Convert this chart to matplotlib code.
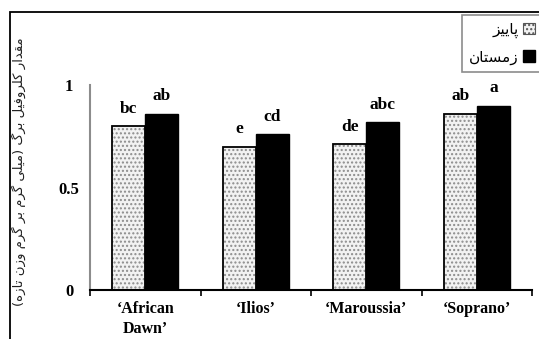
import matplotlib
matplotlib.use("Agg")
import matplotlib.pyplot as plt
from matplotlib.patches import Rectangle, Patch

# Daten
cultivars = ["\u2018African\nDawn\u2019", "\u2018Ilios\u2019", "\u2018Maroussia\u2019", "\u2018Soprano\u2019"]
autumn = [0.80, 0.70, 0.71, 0.86]
winter = [0.86, 0.76, 0.82, 0.90]
autumn_letters = ["bc", "e", "de", "ab"]
winter_letters = ["ab", "cd", "abc", "a"]
yticks = [0, 0.5, 1]
ylabel = "مقدار کلروفیل برگ (میلی گرم بر گرم وزن تازه)"
legend_labels = ["پاییز", "زمستان"]

# einfache Formung fuer persische Schrift (matplotlib hat kein Shaping)
forms = {
    "ا": ("\uFE8D", "\uFE8E", None, None),
    "ب": ("\uFE8F", "\uFE90", "\uFE91", "\uFE92"),
    "پ": ("\uFB56", "\uFB57", "\uFB58", "\uFB59"),
    "ت": ("\uFE95", "\uFE96", "\uFE97", "\uFE98"),
    "د": ("\uFEA9", "\uFEAA", None, None),
    "ر": ("\uFEAD", "\uFEAE", None, None),
    "ز": ("\uFEAF", "\uFEB0", None, None),
    "س": ("\uFEB1", "\uFEB2", "\uFEB3", "\uFEB4"),
    "ف": ("\uFED1", "\uFED2", "\uFED3", "\uFED4"),
    "ق": ("\uFED5", "\uFED6", "\uFED7", "\uFED8"),
    "ک": ("\uFB8E", "\uFB8F", "\uFB90", "\uFB91"),
    "گ": ("\uFB92", "\uFB93", "\uFB94", "\uFB95"),
    "ل": ("\uFEDD", "\uFEDE", "\uFEDF", "\uFEE0"),
    "م": ("\uFEE1", "\uFEE2", "\uFEE3", "\uFEE4"),
    "ن": ("\uFEE5", "\uFEE6", "\uFEE7", "\uFEE8"),
    "ه": ("\uFEE9", "\uFEEA", "\uFEEB", "\uFEEC"),
    "و": ("\uFEED", "\uFEEE", None, None),
    "ی": ("\uFBFC", "\uFBFD", "\uFBFE", "\uFBFF"),
}


def shape(txt):
    out = []
    for i, ch in enumerate(txt):
        if ch not in forms:
            out.append(ch)
            continue
        iso, fin, ini, med = forms[ch]
        prev = txt[i - 1] if i > 0 else ""
        nxt = txt[i + 1] if i + 1 < len(txt) else ""
        join_prev = prev in forms and forms[prev][2] is not None
        join_next = nxt in forms and ini is not None
        if join_prev and join_next:
            out.append(med)
        elif join_prev:
            out.append(fin)
        elif join_next:
            out.append(ini)
        else:
            out.append(iso)
    vis = "".join(out)[::-1]
    return vis.translate(str.maketrans("()", ")("))


serif = "Liberation Serif"
x = list(range(len(cultivars)))
w = 0.3

fig = plt.figure(figsize=(5.39, 3.39), dpi=100)
ax = fig.add_axes([90 / 539, 1 - 290 / 339, 442 / 539, 205 / 339])

xa = [i - w / 2 for i in x]
xw = [i + w / 2 for i in x]
ax.bar(xa, autumn, w, color="#f2f2f2", edgecolor="#8c8c8c", linewidth=0, hatch="....")
ax.bar(xa, autumn, w, fill=False, edgecolor="black", linewidth=1.3)
ax.bar(xw, winter, w, color="black", edgecolor="black", linewidth=1.0)

for xi, v, t in zip(xa, autumn, autumn_letters):
    ax.text(xi, v + 0.045, t, ha="center", va="bottom", fontsize=12.5,
            fontweight="bold", family=serif)
for xi, v, t in zip(xw, winter, winter_letters):
    ax.text(xi, v + 0.045, t, ha="center", va="bottom", fontsize=12.5,
            fontweight="bold", family=serif)

ax.set_xlim(-0.5, 3.5)
ax.set_ylim(0, 1)
ax.set_yticks(yticks)
ax.set_yticklabels(["0", "0.5", "1"], family=serif, fontweight="bold", fontsize=12, ha="center")
ax.tick_params(axis="y", length=0, pad=15)
ax.set_xticks([-0.5, 0.5, 1.5, 2.5, 3.5])
ax.set_xticklabels([])
ax.tick_params(axis="x", which="major", direction="out", length=4, width=1.2, color="black")
ax.set_xticks(x, minor=True)
ax.set_xticklabels(cultivars, minor=True, family=serif, fontweight="bold", fontsize=11.5,
                   linespacing=1.3)
ax.tick_params(axis="x", which="minor", length=0, pad=8)
for lab in ax.get_xticklabels(minor=True):
    lab.set_verticalalignment("top")

ax.spines["top"].set_visible(False)
ax.spines["right"].set_visible(False)
ax.spines["left"].set_color("#8c8c8c")
ax.spines["left"].set_linewidth(1.5)
ax.spines["bottom"].set_linewidth(1.5)

fig.text(18 / 539, 1 - 172 / 339, shape(ylabel), rotation=90, ha="center", va="center",
         fontsize=9.5, family="DejaVu Sans", color="#222222")

# Rahmen aussen
fig.patches.append(Rectangle((10 / 539, -0.1), 1.2, 1 - 12 / 339 + 0.1, transform=fig.transFigure,
                             fill=False, edgecolor="black", linewidth=1.3))

handles = [Patch(facecolor="#f2f2f2", edgecolor="#555555", hatch="....", linewidth=0.8),
           Patch(facecolor="black", edgecolor="black")]
leg = fig.legend(handles, [shape(s) for s in legend_labels], loc="upper left",
                 bbox_to_anchor=(462 / 539, 1 - 15 / 339), borderaxespad=0, markerfirst=False,
                 fancybox=False, framealpha=1, edgecolor="#8c8c8c", borderpad=0.45,
                 handlelength=0.8, handleheight=0.8, handletextpad=0.3, labelspacing=0.75,
                 prop={"family": "DejaVu Sans", "size": 11})
leg.get_frame().set_linewidth(1.2)

fig.savefig("out.png", dpi=100)
